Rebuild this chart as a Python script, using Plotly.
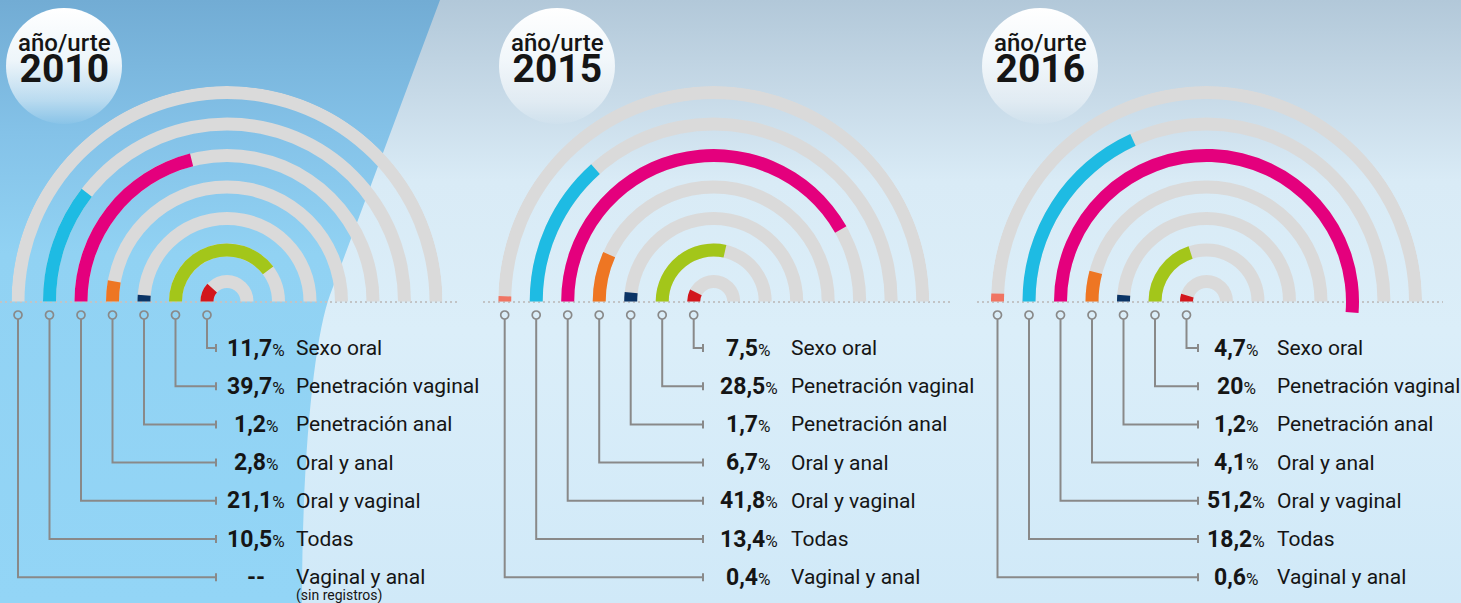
import base64
import math
import plotly.graph_objects as go

# ---------------- data ----------------
categories = ["Vaginal y anal", "Todas", "Oral y vaginal", "Oral y anal",
              "Penetración anal", "Penetración vaginal", "Sexo oral"]  # outer ring -> inner ring
years = ["2010", "2015", "2016"]
values_2010 = [None, 10.5, 21.1, 2.8, 1.2, 39.7, 11.7]
values_2015 = [0.4, 13.4, 41.8, 6.7, 1.7, 28.5, 7.5]
values_2016 = [0.6, 18.2, 51.2, 4.1, 1.2, 20.0, 4.7]
year_caption = "año/urte"
note_missing = "(sin registros)"

ring_colors = ["#f07462", "#1ebbe3", "#e4007d", "#ee7623", "#0b3466", "#a3c61a", "#d2161c"]
track_color = "#dadada"
FULL_PCT = 50.0          # percentage that fills the whole half circle

# ---------------- geometry / style ----------------
W, H = 1461, 603
CY = 301.5
THICK = 13.0
RADII = [209.0 - 31.5 * i for i in range(7)]
R_OUT = RADII[0] + THICK / 2
SEC_PAD = 5.0
panels = [
    dict(cx=227.0, tick=216, val=256, lab=294, badge=(64, 66), dots=(0, 460)),
    dict(cx=713.7, tick=703, val=748.5, lab=789, badge=(557, 66), dots=(483, 951)),
    dict(cx=1206.5, tick=1198, val=1236, lab=1275, badge=(1040, 66), dots=(977, 1443)),
]
all_values = [values_2010, values_2015, values_2016]
ROW0, ROWSTEP = 348.0, 38.2
CIRCLE_Y = 315.0
FONT = "Roboto"
TXT = "#151515"
LEAD = "#898989"


def fmt(v):
    if v is None:
        return "--"
    s = f"{v:.1f}".replace(".", ",")
    if s.endswith(",0"):
        s = s[:-2]
    return s


# ---------------- background (decoration) ----------------
badges_svg = ""
for p in panels:
    bx, by = p["badge"]
    badges_svg += f"<circle cx='{bx}' cy='{by}' r='58' fill='url(#bd)'/>"
svg = f"""<svg xmlns='http://www.w3.org/2000/svg' width='{W}' height='{H}' viewBox='0 0 {W} {H}' preserveAspectRatio='none'>
<defs>
<linearGradient id='bg' x1='0' y1='0' x2='0' y2='1'>
<stop offset='0' stop-color='#b2c8d9'/><stop offset='0.15' stop-color='#c6d9e7'/>
<stop offset='0.3' stop-color='#d9ebf6'/><stop offset='0.55' stop-color='#dbeef9'/><stop offset='1' stop-color='#d0e9f8'/>
</linearGradient>
<linearGradient id='lb' x1='0' y1='0' x2='0' y2='1'>
<stop offset='0' stop-color='#72acd4'/><stop offset='0.22' stop-color='#84c2e8'/>
<stop offset='0.42' stop-color='#91d2f3'/><stop offset='1' stop-color='#93d5f6'/>
</linearGradient>
<linearGradient id='bd' x1='0' y1='0' x2='0' y2='1'>
<stop offset='0' stop-color='#ffffff' stop-opacity='1'/><stop offset='0.45' stop-color='#f4f9fc' stop-opacity='0.95'/>
<stop offset='0.8' stop-color='#ffffff' stop-opacity='0.45'/><stop offset='1' stop-color='#ffffff' stop-opacity='0.05'/>
</linearGradient>
</defs>
<rect x='0' y='0' width='{W}' height='{H}' fill='url(#bg)'/>
<path d='M0 0 L440 0 L330 295 C315 335 302 450 302 603 L0 603 Z' fill='url(#lb)'/>
{badges_svg}
</svg>"""
bg_src = "data:image/svg+xml;base64," + base64.b64encode(svg.encode("utf-8")).decode("ascii")

fig = go.Figure()

# ---------------- overlay axis for leaders ----------------
for k, p in enumerate(panels):
    cx = p["cx"]
    fig.add_trace(go.Scatter(x=[p["dots"][0], p["dots"][1]], y=[CY + 0.5, CY + 0.5], mode="lines",
                             line=dict(color="#c2c4c6", width=2, dash="2px,3px"),
                             hoverinfo="skip", showlegend=False, xaxis="x", yaxis="y"))
    lx, ly = [], []
    cxs = []
    for i, r in enumerate(RADII):
        x0 = cx - r
        ry = ROW0 + ROWSTEP * (6 - i)
        lx += [x0, x0, p["tick"], None, p["tick"], p["tick"], None]
        ly += [CIRCLE_Y + 4, ry, ry, None, ry - 4, ry + 4, None]
        cxs.append(x0)
    fig.add_trace(go.Scatter(x=lx, y=ly, mode="lines", line=dict(color=LEAD, width=2),
                             hoverinfo="skip", showlegend=False, xaxis="x", yaxis="y"))
    fig.add_trace(go.Scatter(x=cxs, y=[CIRCLE_Y] * 7, mode="markers",
                             marker=dict(symbol="circle-open", size=8, color=LEAD, line=dict(width=1.7)),
                             hoverinfo="skip", showlegend=False, xaxis="x", yaxis="y"))

# ---------------- rings (barpolar) ----------------
s = math.sin(math.radians(SEC_PAD))
layout_polars = {}
for k, (p, vals) in enumerate(zip(panels, all_values)):
    name = "polar" if k == 0 else f"polar{k + 1}"
    cx = p["cx"]
    layout_polars[name] = dict(
        domain=dict(x=[(cx - R_OUT) / W, (cx + R_OUT) / W],
                    y=[1 - (CY + R_OUT * s) / H, 1 - (CY - R_OUT) / H]),
        sector=[-SEC_PAD, 180 + SEC_PAD],
        bgcolor="rgba(0,0,0,0)",
        barmode="overlay",
        radialaxis=dict(visible=False, range=[0, R_OUT]),
        angularaxis=dict(visible=False, direction="counterclockwise", rotation=0),
    )
    fig.add_trace(go.Barpolar(r=[THICK] * 7, base=[r - THICK / 2 for r in RADII],
                              theta=[90] * 7, width=[180] * 7,
                              marker=dict(color=track_color, line=dict(width=0)),
                              hoverinfo="skip", showlegend=False, subplot=name))
    rr, bb, tt, ww, cc = [], [], [], [], []
    for i, v in enumerate(vals):
        if v is None:
            continue
        span = v / FULL_PCT * 180.0
        rr.append(THICK)
        bb.append(RADII[i] - THICK / 2)
        tt.append(180.0 - span / 2)
        ww.append(span)
        cc.append(ring_colors[i])
    fig.add_trace(go.Barpolar(r=rr, base=bb, theta=tt, width=ww,
                              marker=dict(color=cc, line=dict(width=0)),
                              hoverinfo="skip", showlegend=False, subplot=name))

# ---------------- text ----------------
ann = []
for k, (p, vals) in enumerate(zip(panels, all_values)):
    bx, by = p["badge"]
    ann.append(dict(x=bx, y=60, xref="x", yref="y",
                    text=f"{year_caption}<br><span style='font-size:39px'><b>{years[k]}</b></span>",
                    showarrow=False, xanchor="center", yanchor="middle", align="center",
                    font=dict(family=FONT, size=24, color=TXT, weight=500)))
    for i, v in enumerate(vals):
        ry = ROW0 + ROWSTEP * (6 - i)
        if v is None:
            vt = "<b>--</b>"
        else:
            vt = f"<b>{fmt(v)}</b><span style='font-size:17px'>%</span>"
        ann.append(dict(x=p["val"], y=ry, xref="x", yref="y", text=vt, showarrow=False,
                        xanchor="center", yanchor="middle",
                        font=dict(family=FONT, size=23, color=TXT)))
        ann.append(dict(x=p["lab"], y=ry, xref="x", yref="y", text=categories[i], showarrow=False,
                        xanchor="left", yanchor="middle",
                        font=dict(family=FONT, size=21, color=TXT)))
        if v is None:
            ann.append(dict(x=p["lab"], y=ry + 18, xref="x", yref="y", text=note_missing,
                            showarrow=False, xanchor="left", yanchor="middle",
                            font=dict(family=FONT, size=14, color=TXT)))

fig.update_layout(
    width=W, height=H, autosize=False,
    margin=dict(l=0, r=0, t=0, b=0, pad=0),
    paper_bgcolor="#d3eaf8", plot_bgcolor="rgba(0,0,0,0)",
    showlegend=False,
    xaxis=dict(range=[0, W], visible=False, domain=[0, 1], fixedrange=True),
    yaxis=dict(range=[H, 0], visible=False, domain=[0, 1], fixedrange=True),
    annotations=ann,
    images=[dict(source=bg_src, xref="paper", yref="paper", x=0, y=1, sizex=1, sizey=1,
                 xanchor="left", yanchor="top", sizing="stretch", layer="below")],
    **layout_polars,
)

fig.write_html("out.html", config={"displayModeBar": False, "staticPlot": True},
               post_script="document.body.style.margin='0';document.body.style.overflow='hidden';")
